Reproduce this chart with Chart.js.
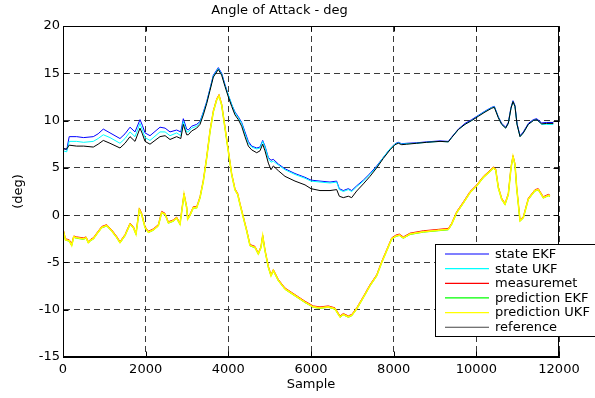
<!DOCTYPE html>
<html>
<head>
<meta charset="utf-8">
<script src="https://cdn.jsdelivr.net/npm/chart.js@4.4.0/dist/chart.umd.min.js"></script>
<style>
  html, body { margin: 0; padding: 0; background: #fff; }
  #wrap { width: 595px; height: 398px; }
</style>
</head>
<body>
<div id="wrap"><canvas id="aoa" width="595" height="398"></canvas></div>
<script>
// Angle of Attack - deg : stany i predykcje filtrów EKF / UKF

const tytul = 'Angle of Attack - deg';
const opisX = 'Sample';
const opisY = '(deg)';
const tickiX = [0, 2000, 4000, 6000, 8000, 10000, 12000];
const tickiY = [-15, -10, -5, 0, 5, 10, 15, 20];
const nazwySerii = ['state EKF', 'state UKF', 'measuremet', 'prediction EKF', 'prediction UKF', 'reference'];

// próbki dla górnych krzywych (stan, referencja)
const probkiGora = [
  0, 90, 150, 330, 500, 733, 850, 975, 1137, 1379,
  1500, 1621, 1742, 1863, 1920, 1984, 2105, 2347, 2470, 2589,
  2750, 2850, 2911, 2992, 3032, 3112, 3234, 3315, 3395, 3476,
  3557, 3637, 3758, 3839, 3920, 4000, 4081, 4161, 4242, 4323,
  4403, 4484, 4565, 4686, 4766, 4831, 4887, 4968, 5032, 5089,
  5210, 5371, 5613, 5855, 6000, 6218, 6460, 6621, 6685, 6782,
  6903, 6984, 7105, 7266, 7427, 7589, 7750, 7911, 8032, 8113,
  8194, 8315, 8557, 8799, 9121, 9323, 9403, 9565, 9726, 9887,
  10048, 10210, 10371, 10436, 10532, 10613, 10710, 10774, 10839, 10887,
  10935, 10984, 11057, 11137, 11258, 11379, 11460, 11581, 11702, 11863
];

const referencja = [
  7.0, 7.0, 7.4, 7.3, 7.3, 7.2, 7.5, 7.9, 7.6, 7.1,
  7.6, 8.3, 7.8, 9.2, 8.6, 7.8, 7.5, 8.3, 8.4, 8.0,
  8.3, 8.1, 9.6, 8.5, 8.5, 8.9, 9.2, 9.6, 10.6, 11.8,
  13.2, 14.6, 15.4, 14.8, 13.6, 12.5, 11.5, 10.6, 10.1, 9.4,
  8.3, 7.3, 6.9, 6.6, 6.8, 7.5, 6.8, 5.5, 4.8, 5.2,
  4.7, 4.1, 3.6, 3.2, 2.8, 2.6, 2.6, 2.7, 2.0, 1.85,
  2.0, 1.85, 2.55, 3.3, 4.1, 5.0, 6.0, 6.9, 7.45, 7.6,
  7.45, 7.5, 7.6, 7.7, 7.8, 7.75, 8.2, 9.05, 9.6, 10.0,
  10.45, 10.9, 11.3, 11.4, 10.3, 9.6, 9.2, 9.7, 11.3, 12.0,
  11.5, 9.6, 8.3, 8.7, 9.6, 10.0, 10.1, 9.65, 9.7, 9.7
];

const stanEKF = [
  7.1, 6.9, 8.3, 8.3, 8.2, 8.3, 8.6, 9.1, 8.7, 8.1,
  8.6, 9.3, 8.8, 10.1, 9.5, 8.7, 8.4, 9.3, 9.2, 8.8,
  9.0, 8.8, 10.2, 9.1, 9.0, 9.4, 9.6, 9.9, 10.9, 12.0,
  13.4, 14.8, 15.6, 15.0, 13.8, 12.7, 11.7, 10.9, 10.4, 9.8,
  8.8, 7.8, 7.3, 7.1, 7.2, 7.9, 7.3, 6.1, 5.8, 5.9,
  5.4, 4.9, 4.4, 4.0, 3.7, 3.6, 3.5, 3.6, 2.8, 2.6,
  2.8, 2.6, 3.1, 3.7, 4.4, 5.2, 6.1, 7.0, 7.55, 7.7,
  7.55, 7.6, 7.65, 7.75, 7.85, 7.8, 8.25, 9.1, 9.7, 10.1,
  10.55, 11.0, 11.4, 11.5, 10.4, 9.7, 9.3, 9.8, 11.4, 12.1,
  11.6, 9.7, 8.4, 8.8, 9.7, 10.1, 10.2, 9.75, 9.8, 9.8
];

const stanUKF = [
  6.8, 6.7, 7.8, 7.8, 7.7, 7.8, 8.1, 8.5, 8.2, 7.6,
  8.1, 8.8, 8.3, 9.7, 9.0, 8.2, 7.9, 8.8, 8.8, 8.4,
  8.7, 8.4, 9.9, 8.8, 8.8, 9.2, 9.4, 9.8, 10.8, 11.9,
  13.3, 14.7, 15.5, 14.9, 13.7, 12.7, 11.7, 10.8, 10.3, 9.7,
  8.6, 7.6, 7.2, 7.0, 7.1, 7.8, 7.2, 6.0, 5.6, 5.7,
  5.3, 4.8, 4.3, 3.9, 3.6, 3.5, 3.4, 3.5, 2.7, 2.5,
  2.7, 2.5, 3.0, 3.6, 4.3, 5.1, 6.1, 7.0, 7.5, 7.65,
  7.5, 7.55, 7.6, 7.7, 7.8, 7.75, 8.2, 9.05, 9.6, 10.0,
  10.5, 10.95, 11.35, 11.45, 10.35, 9.6, 9.2, 9.7, 11.3, 12.0,
  11.5, 9.6, 8.3, 8.7, 9.6, 10.0, 10.1, 9.6, 9.6, 9.6
];

// próbki dla dolnych krzywych (pomiar, predykcje)
const probkiDol = [
  0, 60, 150, 210, 260, 331, 492, 560, 613, 680,
  733, 815, 936, 1057, 1178, 1299, 1379, 1500, 1621, 1702,
  1766, 1847, 1903, 1984, 2065, 2186, 2307, 2387, 2468, 2549,
  2670, 2750, 2831, 2928, 2992, 3016, 3073, 3153, 3234, 3315,
  3395, 3476, 3557, 3637, 3718, 3774, 3839, 3920, 4000, 4081,
  4161, 4226, 4282, 4363, 4444, 4524, 4645, 4726, 4790, 4831,
  4887, 4968, 5032, 5089, 5210, 5371, 5613, 5855, 6056, 6218,
  6420, 6581, 6702, 6782, 6903, 6984, 7105, 7266, 7427, 7589,
  7710, 7831, 7952, 8057, 8137, 8234, 8395, 8718, 9081, 9323,
  9403, 9524, 9686, 9847, 10008, 10169, 10331, 10411, 10468, 10532,
  10613, 10694, 10774, 10839, 10887, 10935, 10976, 11057, 11137, 11258,
  11419, 11500, 11621, 11742, 11783
];

const pomiar = [
  -1.4, -2.5, -2.6, -3.0, -2.2, -2.3, -2.4, -2.3, -2.8, -2.5,
  -2.4, -1.9, -1.2, -1.0, -1.55, -2.25, -2.8, -2.05, -0.85, -1.2,
  -1.9, 0.75, 0.2, -1.2, -1.7, -1.45, -1.0, 0.4, 0.2, -0.7,
  -0.5, -0.2, -0.85, 2.3, 0.9, -0.3, 0.1, 0.9, 0.9, 1.95,
  3.7, 6.15, 8.95, 11.05, 12.3, 12.75, 11.75, 9.3, 6.85, 4.4,
  2.8, 2.3, 1.25, -0.15, -1.55, -3.1, -3.3, -4.0, -3.3, -2.1,
  -3.65, -5.4, -6.3, -5.75, -6.8, -7.7, -8.4, -9.1, -9.6, -9.7,
  -9.6, -9.8, -10.65, -10.4, -10.65, -10.5, -9.8, -8.6, -7.35, -6.3,
  -4.9, -3.65, -2.4, -2.1, -2.0, -2.3, -1.9, -1.65, -1.5, -1.4,
  -0.85, 0.37, 1.4, 2.5, 3.2, 4.1, 4.75, 5.1, 4.9, 3.0,
  1.8, 1.25, 2.3, 5.1, 6.3, 5.45, 3.0, -0.5, -0.15, 1.8,
  2.7, 2.8, 1.95, 2.2, 2.1
];

const predykcjaEKF = [
  -1.6, -2.65, -2.75, -3.25, -2.35, -2.45, -2.55, -2.45, -2.95, -2.65,
  -2.55, -2.05, -1.35, -1.15, -1.7, -2.4, -2.95, -2.2, -1.0, -1.35,
  -2.05, 0.55, 0.05, -1.35, -1.85, -1.6, -1.15, 0.22, 0.05, -0.85,
  -0.65, -0.35, -1.0, 2.15, 0.75, -0.45, -0.05, 0.75, 0.75, 1.8,
  3.55, 6.0, 8.8, 10.9, 12.15, 12.6, 11.6, 9.15, 6.7, 4.25,
  2.65, 2.15, 1.1, -0.3, -1.7, -3.25, -3.45, -4.15, -3.45, -2.25,
  -3.8, -5.55, -6.45, -5.9, -6.95, -7.85, -8.55, -9.25, -9.75, -9.85,
  -9.75, -9.95, -10.8, -10.55, -10.8, -10.65, -9.95, -8.75, -7.5, -6.45,
  -5.05, -3.8, -2.55, -2.25, -2.15, -2.45, -2.05, -1.8, -1.65, -1.55,
  -1.0, 0.22, 1.25, 2.35, 3.05, 3.95, 4.6, 4.95, 4.75, 2.85,
  1.65, 1.1, 2.15, 4.95, 6.15, 5.3, 2.85, -0.65, -0.3, 1.65,
  2.55, 2.65, 1.8, 2.05, 1.95
];

const predykcjaUKF = [
  -1.5, -2.6, -2.7, -3.2, -2.3, -2.4, -2.5, -2.4, -2.9, -2.6,
  -2.5, -2.0, -1.3, -1.1, -1.65, -2.35, -2.9, -2.15, -0.95, -1.3,
  -2.0, 0.6, 0.1, -1.3, -1.8, -1.55, -1.1, 0.27, 0.1, -0.8,
  -0.6, -0.3, -0.95, 2.2, 0.8, -0.4, 0.0, 0.8, 0.8, 1.85,
  3.6, 6.05, 8.85, 10.95, 12.2, 12.65, 11.65, 9.2, 6.75, 4.3,
  2.7, 2.2, 1.15, -0.25, -1.65, -3.2, -3.4, -4.1, -3.4, -2.2,
  -3.75, -5.5, -6.4, -5.85, -6.9, -7.8, -8.5, -9.2, -9.7, -9.8,
  -9.7, -9.9, -10.75, -10.5, -10.75, -10.6, -9.9, -8.7, -7.45, -6.4,
  -5.0, -3.75, -2.5, -2.2, -2.1, -2.4, -2.0, -1.75, -1.6, -1.5,
  -0.95, 0.27, 1.3, 2.4, 3.1, 4.0, 4.65, 5.0, 4.8, 2.9,
  1.7, 1.15, 2.2, 5.0, 6.2, 5.35, 2.9, -0.6, -0.25, 1.7,
  2.6, 2.7, 1.85, 2.1, 2.0
];

const kolory = ['#0000ff', '#00ffff', '#ff0000', '#00ff00', '#ffff00', '#000000'];

Chart.defaults.font.family = '"DejaVu Sans", sans-serif';
Chart.defaults.font.size = 13;
Chart.defaults.color = '#000';

function punkty(xs, ys) {
  return xs.map((x, i) => ({ x: x, y: ys[i] }));
}

function seria(i, xs, ys, grubosc, kolejnosc) {
  return {
    label: nazwySerii[i],
    data: punkty(xs, ys),
    borderColor: kolory[i],
    backgroundColor: kolory[i],
    borderWidth: grubosc,
    pointRadius: 0,
    tension: 0,
    fill: false,
    order: kolejnosc
  };
}

/**
 * Ramka osi z krótkimi znacznikami do środka (jak w MATLAB-ie)
 */
const ramkaOsi = {
  id: 'ramkaOsi',
  afterDraw(chart) {
    const { ctx, chartArea: a, scales } = chart;
    const L = Math.round(a.left) + 0.5, R = Math.round(a.right) - 0.5;
    const T = Math.round(a.top) + 0.5, B = Math.round(a.bottom) - 0.5;
    ctx.save();
    ctx.strokeStyle = '#000';
    ctx.lineWidth = 1;
    ctx.strokeRect(L, T, R - L, B - T);
    ctx.beginPath();
    tickiX.forEach(v => {
      const px = Math.round(scales.x.getPixelForValue(v)) + 0.5;
      ctx.moveTo(px, B); ctx.lineTo(px, B - 5);
      ctx.moveTo(px, T); ctx.lineTo(px, T + 5);
    });
    tickiY.forEach(v => {
      const py = Math.round(scales.y.getPixelForValue(v)) + 0.5;
      ctx.moveTo(L, py); ctx.lineTo(L + 5, py);
      ctx.moveTo(R, py); ctx.lineTo(R - 5, py);
    });
    ctx.stroke();
    ctx.restore();
  }
};

/**
 * Legenda w prawym dolnym rogu wykresu
 */
const legendaWRamce = {
  id: 'legendaWRamce',
  afterDraw(chart) {
    const ctx = chart.ctx;
    const x0 = 435.5, y0 = 244.5, szer = 170, wys = 92;
    ctx.save();
    ctx.fillStyle = '#fff';
    ctx.fillRect(x0, y0, szer, wys);
    ctx.strokeStyle = '#000';
    ctx.lineWidth = 1;
    ctx.strokeRect(x0, y0, szer, wys);
    ctx.font = '13px "DejaVu Sans", sans-serif';
    ctx.textBaseline = 'middle';
    ctx.textAlign = 'left';
    nazwySerii.forEach((nazwa, i) => {
      const yy = 254 + i * 14.65;
      ctx.strokeStyle = i === 5 ? '#444' : kolory[i];
      ctx.lineWidth = 1.2;
      ctx.beginPath();
      ctx.moveTo(445, yy);
      ctx.lineTo(489, yy);
      ctx.stroke();
      ctx.fillStyle = '#000';
      ctx.fillText(nazwa, 495, yy + 0.5);
    });
    ctx.restore();
  }
};

const siatka = { color: '#3a3a3a', lineWidth: 1, drawTicks: false };
const obramowanie = { display: true, color: '#000', width: 1, dash: [6, 4] };

new Chart(document.getElementById('aoa'), {
  type: 'line',
  data: {
    datasets: [
      seria(0, probkiGora, stanEKF, 1, 6),
      seria(1, probkiGora, stanUKF, 1, 5),
      seria(2, probkiDol, pomiar, 1, 4),
      seria(3, probkiDol, predykcjaEKF, 1, 3),
      seria(4, probkiDol, predykcjaUKF, 1.6, 2),
      seria(5, probkiGora, referencja, 1, 1)
    ]
  },
  options: {
    responsive: false,
    animation: false,
    devicePixelRatio: 1,
    layout: { padding: { left: 0, right: 36, top: 0, bottom: 0 } },
    plugins: {
      legend: { display: false },
      tooltip: { enabled: false },
      title: {
        display: true,
        text: tytul,
        color: '#000',
        font: { size: 13, weight: 'normal' },
        padding: { top: 3, bottom: 7.4 }
      }
    },
    scales: {
      x: {
        type: 'linear',
        min: 0,
        max: 12000,
        grid: siatka,
        border: obramowanie,
        ticks: {
          stepSize: 2000,
          padding: 5,
          maxRotation: 0,
          color: '#000',
          callback: v => String(v)
        },
        title: { display: true, text: opisX, color: '#000', padding: { top: 0, bottom: 6 } },
        afterFit(skala) { skala.height = 41; }
      },
      y: {
        min: -15,
        max: 20,
        grid: siatka,
        border: obramowanie,
        ticks: {
          stepSize: 5,
          padding: 3,
          color: '#000',
          callback: v => String(v)
        },
        title: { display: true, text: opisY, color: '#000', padding: { top: 11, bottom: 0 } },
        afterFit(skala) { skala.width = 63; }
      }
    }
  },
  plugins: [ramkaOsi, legendaWRamce]
});
</script>
</body>
</html>
